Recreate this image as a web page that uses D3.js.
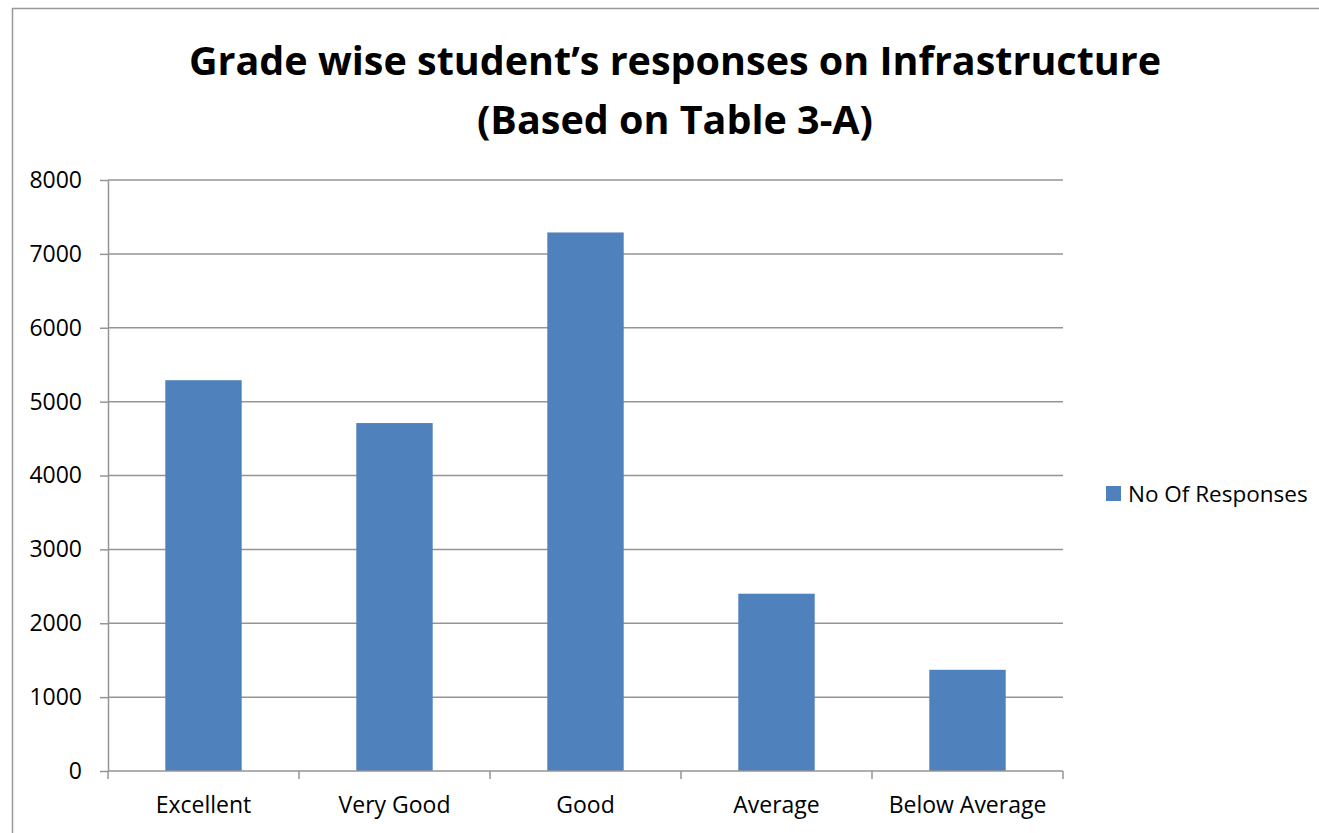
<!DOCTYPE html>
<html>
<head>
<meta charset="utf-8">
<script src="https://d3js.org/d3.v7.min.js"></script>
<style>
  body { margin: 0; background: #fff; }
  svg { display: block; font-family: "Open Sans", Calibri, sans-serif; }
  .tick text { fill: #000; font-size: 23px; font-family: "Open Sans", sans-serif; }
</style>
</head>
<body>
<div id="chart"></div>
<script>
  var categories = ["Excellent", "Very Good", "Good", "Average", "Below Average"];
  var responses = [5290, 4710, 7290, 2400, 1370];
  var yTicks = [0, 1000, 2000, 3000, 4000, 5000, 6000, 7000, 8000];
  var seriesName = "No Of Responses";
  var titleLines = ["Grade wise student\u2019s responses on Infrastructure", "(Based on Table 3-A)"];

  var width = 1319, height = 833;
  var plot = {left: 108, right: 1063, top: 180, bottom: 771};

  var svg = d3.select("#chart").append("svg")
      .attr("width", width)
      .attr("height", height);

  // outer chart border
  svg.append("rect")
      .attr("x", 12.5).attr("y", 8.5)
      .attr("width", width + 20).attr("height", height + 20)
      .attr("fill", "none")
      .attr("stroke", "#999")
      .attr("stroke-width", 1.5);

  var x = d3.scaleBand()
      .domain(categories)
      .range([plot.left, plot.right])
      .paddingInner(0.6)
      .paddingOuter(0.3);

  var y = d3.scaleLinear()
      .domain([0, 8000])
      .range([plot.bottom, plot.top]);

  // gridlines
  svg.append("g")
      .selectAll("line")
      .data(yTicks.filter(function(d) { return d > 0; }))
      .enter().append("line")
      .attr("x1", plot.left).attr("x2", plot.right)
      .attr("y1", function(d) { return y(d); })
      .attr("y2", function(d) { return y(d); })
      .attr("stroke", "#959595")
      .attr("stroke-width", 1.5);

  svg.append("g")
      .selectAll("rect")
      .data(responses)
      .enter().append("rect")
      .attr("x", function(d, i) { return x(categories[i]); })
      .attr("width", x.bandwidth())
      .attr("y", function(d) { return y(d); })
      .attr("height", function(d) { return y(0) - y(d); })
      .attr("fill", "#4f81bd");

  var yAxis = svg.append("g")
      .attr("transform", "translate(" + plot.left + ",0)")
      .call(d3.axisLeft(y).tickValues(yTicks).tickFormat(d3.format("d"))
        .tickSize(8).tickPadding(18).tickSizeOuter(0));

  // x axis with category dividers
  var xAxis = svg.append("g")
      .attr("transform", "translate(0," + plot.bottom + ")")
      .call(d3.axisBottom(x).tickSize(0).tickPadding(26).tickSizeOuter(0));

  var step = x.step();
  xAxis.selectAll(".divider")
      .data(d3.range(categories.length + 1))
      .enter().append("line")
      .attr("class", "divider")
      .attr("x1", function(i) { return plot.left + i * step; })
      .attr("x2", function(i) { return plot.left + i * step; })
      .attr("y1", 0).attr("y2", 8);

  svg.selectAll(".domain, .tick line, .divider")
      .attr("stroke", "#959595")
      .attr("stroke-width", 1.5);
  xAxis.select(".domain").attr("d", "M" + plot.left + ",0H" + plot.right);

  // title
  svg.append("g").selectAll("text")
      .data(titleLines)
      .enter().append("text")
      .attr("x", 675)
      .attr("y", function(d, i) { return 75 + i * 59; })
      .attr("text-anchor", "middle")
      .attr("font-size", 39.5)
      .attr("font-weight", "bold")
      .text(function(d) { return d; });

  // legend
  var legend = svg.append("g").attr("transform", "translate(1106,486)");
  legend.append("rect")
      .attr("width", 15).attr("height", 15)
      .attr("fill", "#4f81bd");
  legend.append("text")
      .attr("x", 22).attr("y", 16)
      .attr("font-size", 22.5)
      .text(seriesName);
</script>
</body>
</html>
